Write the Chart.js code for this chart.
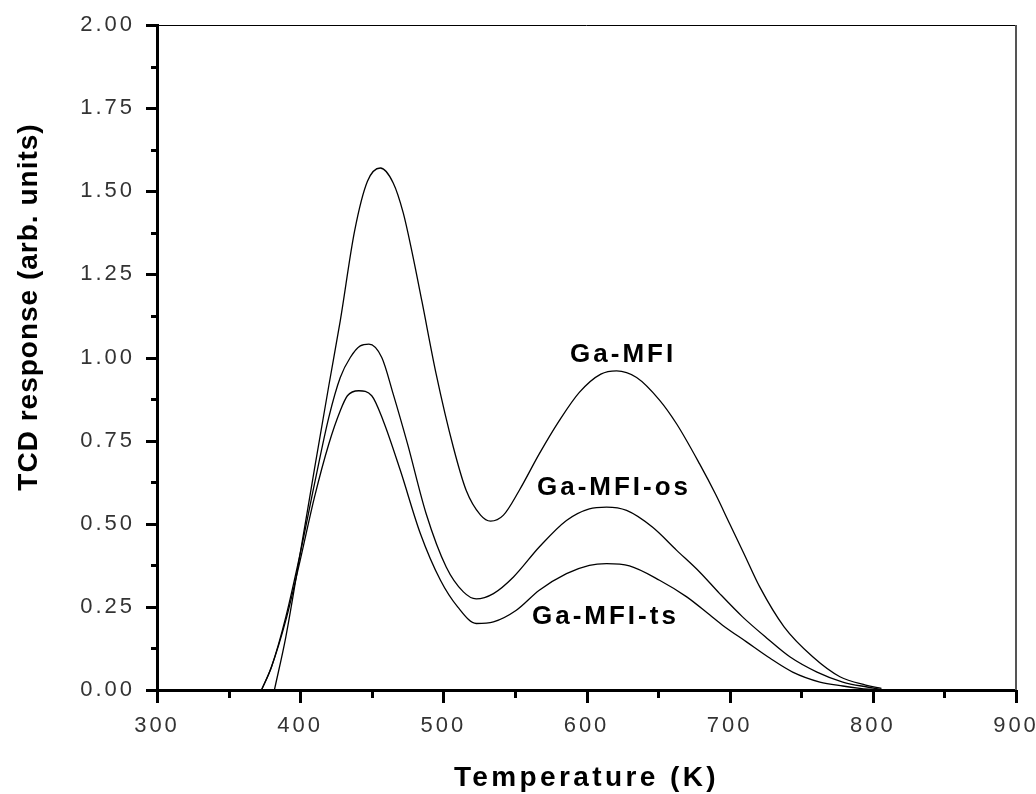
<!DOCTYPE html>
<html>
<head>
<meta charset="utf-8">
<title>TCD response vs temperature</title>
<script src="https://cdn.jsdelivr.net/npm/chart.js@4.4.1/dist/chart.umd.min.js"></script>
<style>
  html, body { margin: 0; padding: 0; background: #fff; }
  #wrap { width: 1036px; height: 794px; }
</style>
</head>
<body>
<div id="wrap"><canvas id="tpd" width="1036" height="794"></canvas></div>
<script>
// TCD traces (temperature in K, signal in arb. units)
const mfiTemp   = [382, 390, 400, 410, 420, 428, 438, 447, 456, 465, 472, 478, 485, 495, 507, 516, 526, 533, 542, 553, 567, 581, 595, 610, 621, 635, 651, 663, 679, 690, 700, 710, 721, 738, 758, 777, 795, 806];
const mfiSignal = [0, 0.16, 0.41, 0.665, 0.915, 1.11, 1.38, 1.53, 1.57, 1.525, 1.435, 1.32, 1.17, 0.95, 0.73, 0.60, 0.526, 0.508, 0.526, 0.60, 0.71, 0.81, 0.895, 0.95, 0.96, 0.94, 0.872, 0.80, 0.68, 0.59, 0.50, 0.41, 0.31, 0.19, 0.10, 0.04, 0.015, 0.005];

const osTemp   = [373, 380, 390, 400, 410, 420, 428, 435, 442, 448, 457, 465, 475, 488, 502, 514, 523, 535, 549, 567, 586, 602, 614, 628, 646, 663, 679, 693, 709, 726, 742, 761, 779, 796, 806];
const osSignal = [0, 0.07, 0.22, 0.41, 0.62, 0.82, 0.94, 1.00, 1.035, 1.04, 1.00, 0.89, 0.74, 0.53, 0.37, 0.295, 0.274, 0.29, 0.34, 0.43, 0.51, 0.545, 0.55, 0.54, 0.49, 0.42, 0.355, 0.29, 0.22, 0.156, 0.10, 0.054, 0.024, 0.009, 0.002];

const tsTemp   = [373, 380, 390, 400, 410, 420, 428, 433, 441, 450, 458, 470, 484, 498, 510, 523, 535, 551, 567, 586, 602, 614, 630, 651, 670, 686, 695, 712, 728, 744, 763, 779, 791, 800];
const tsSignal = [0, 0.07, 0.21, 0.39, 0.58, 0.74, 0.84, 0.885, 0.90, 0.885, 0.81, 0.66, 0.47, 0.33, 0.25, 0.20, 0.205, 0.24, 0.30, 0.35, 0.375, 0.38, 0.373, 0.33, 0.28, 0.226, 0.195, 0.144, 0.096, 0.054, 0.024, 0.012, 0.005, 0.001];

const seriesNames = ['Ga-MFI', 'Ga-MFI-os', 'Ga-MFI-ts'];
// where each name sits on the plot (left edge, baseline), in data units
const labelTemp   = [588.5, 565.4, 561.9];
const labelSignal = [0.986, 0.586, 0.198];

const xTickValues = [300, 400, 500, 600, 700, 800, 900];
const yTickValues = [0, 0.25, 0.5, 0.75, 1.0, 1.25, 1.5, 1.75, 2.0];

const xTitle = 'Temperature (K)';
const yTitle = 'TCD response (arb. units)';

function toPoints(temps, values) {
    return temps.map((t, i) => ({ x: t, y: values[i] }));
}

function traceDataset(name, temps, values) {
    return {
        label: name,
        data: toPoints(temps, values),
        borderColor: '#000',
        borderWidth: 1.3,
        pointRadius: 0,
        fill: false,
        cubicInterpolationMode: 'monotone'
    };
}

// Frame, major/minor tick marks, axis titles and curve names
const frameAndLabels = {
    id: 'frameAndLabels',
    beforeDraw(chart) {
        // tick labels in the original are spaced out
        chart.ctx.letterSpacing = '3px';
    },
    afterDraw(chart) {
        const { ctx, chartArea: a } = chart;
        const x = chart.scales.x;
        const y = chart.scales.y;
        ctx.save();
        ctx.letterSpacing = '0px';

        // thin top and right frame
        ctx.strokeStyle = '#000';
        ctx.lineWidth = 1;
        ctx.beginPath();
        ctx.moveTo(a.left, a.top + 0.5);
        ctx.lineTo(a.right, a.top + 0.5);
        ctx.stroke();
        ctx.strokeStyle = '#555';
        ctx.lineWidth = 2;
        ctx.beginPath();
        ctx.moveTo(a.right, a.top);
        ctx.lineTo(a.right, a.bottom);
        ctx.stroke();

        // tick marks, minor ones half way between labels
        ctx.strokeStyle = '#000';
        ctx.lineWidth = 3;
        ctx.beginPath();
        for (let i = 0; i < yTickValues.length; i++) {
            const py = Math.round(y.getPixelForValue(yTickValues[i])) + 0.5;
            ctx.moveTo(a.left - 11, py);
            ctx.lineTo(a.left, py);
            if (i < yTickValues.length - 1) {
                const pm = Math.round(y.getPixelForValue((yTickValues[i] + yTickValues[i + 1]) / 2)) + 0.5;
                ctx.moveTo(a.left - 6, pm);
                ctx.lineTo(a.left, pm);
            }
        }
        for (let i = 0; i < xTickValues.length; i++) {
            const px = Math.round(x.getPixelForValue(xTickValues[i])) + 0.5;
            ctx.moveTo(px, a.bottom);
            ctx.lineTo(px, a.bottom + 13);
            if (i < xTickValues.length - 1) {
                const pm = Math.round(x.getPixelForValue((xTickValues[i] + xTickValues[i + 1]) / 2)) + 0.5;
                ctx.moveTo(pm, a.bottom);
                ctx.lineTo(pm, a.bottom + 8);
            }
        }
        ctx.stroke();

        // axis titles
        ctx.fillStyle = '#000';
        ctx.textBaseline = 'alphabetic';
        ctx.textAlign = 'center';
        ctx.font = 'bold 28px "Liberation Sans", Arial, sans-serif';
        ctx.letterSpacing = '3.4px';
        ctx.fillText(xTitle, (a.left + a.right) / 2, 786);

        ctx.save();
        ctx.letterSpacing = '1px';
        ctx.translate(37, 307);
        ctx.rotate(-Math.PI / 2);
        ctx.fillText(yTitle, 0, 0);
        ctx.restore();

        // sample names next to their traces
        ctx.textAlign = 'left';
        ctx.font = 'bold 26px "Liberation Sans", Arial, sans-serif';
        ctx.letterSpacing = '3px';
        for (let i = 0; i < seriesNames.length; i++) {
            ctx.fillText(seriesNames[i], x.getPixelForValue(labelTemp[i]), y.getPixelForValue(labelSignal[i]));
        }
        ctx.restore();
    }
};

const tickFont = { family: '"Liberation Sans", Arial, sans-serif', size: 22 };

new Chart(document.getElementById('tpd'), {
    type: 'line',
    data: {
        datasets: [
            traceDataset(seriesNames[0], mfiTemp, mfiSignal),
            traceDataset(seriesNames[1], osTemp, osSignal),
            traceDataset(seriesNames[2], tsTemp, tsSignal)
        ]
    },
    options: {
        responsive: false,
        animation: false,
        devicePixelRatio: 1,
        layout: { padding: { top: 25, right: 20, left: 0, bottom: 0 } },
        plugins: {
            legend: { display: false },
            tooltip: { enabled: false }
        },
        scales: {
            x: {
                type: 'linear',
                min: 300,
                max: 900,
                afterFit(scale) {
                    scale.height = 104;
                    scale.paddingLeft = 0;
                    scale.paddingRight = 0;
                },
                afterBuildTicks(scale) { scale.ticks = xTickValues.map(v => ({ value: v })); },
                grid: { display: false, drawTicks: false },
                border: { display: true, width: 3, color: '#000' },
                ticks: {
                    padding: 23,
                    font: tickFont,
                    color: '#333',
                    maxRotation: 0,
                    autoSkip: false,
                    callback: v => String(v)
                }
            },
            y: {
                type: 'linear',
                min: 0,
                max: 2,
                afterFit(scale) {
                    scale.width = 157;
                    scale.paddingTop = 0;
                    scale.paddingBottom = 0;
                },
                afterBuildTicks(scale) { scale.ticks = yTickValues.map(v => ({ value: v })); },
                grid: { display: false, drawTicks: false },
                border: { display: true, width: 3, color: '#000' },
                ticks: {
                    padding: 22,
                    font: tickFont,
                    color: '#333',
                    autoSkip: false,
                    callback: v => v.toFixed(2)
                }
            }
        }
    },
    plugins: [frameAndLabels]
});
</script>
</body>
</html>
